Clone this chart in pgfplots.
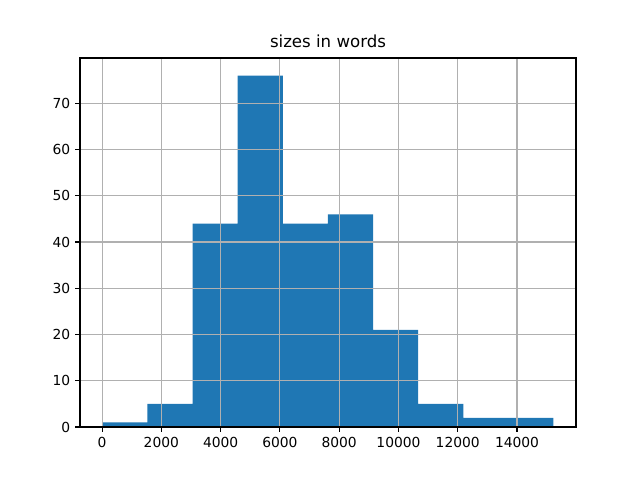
\documentclass[border=0pt]{standalone}
\usepackage{pgfplots}
\pgfplotsset{compat=1.18}
\usepackage{fontspec}
\setmainfont{DejaVu Sans}
\definecolor{mplblue}{HTML}{1F77B4}
\definecolor{mplgrid}{HTML}{B0B0B0}
\begin{document}
\begin{tikzpicture}
\path (0,0) rectangle (6.4in,4.8in);
\begin{axis}[
  at={(0.8in,0.53in)}, anchor=south west,
  scale only axis, width=4.96in, height=3.69in,
  xmin=-744, xmax=15990, ymin=0, ymax=79.8,
  xtick={0,2000,...,14000}, ytick={0,10,...,70},
  grid=major, major grid style={mplgrid, line width=0.8pt},
  axis on top,
  tick align=outside, tick pos=left,
  major tick length=3.5pt,
  every tick/.style={black, line width=0.8pt},
  axis line style={line width=0.8pt},
  /pgf/number format/assume math mode=true,
  /pgf/number format/1000 sep={},
  ticklabel style={font=\fontsize{10}{12}\selectfont},
  scaled x ticks=false,
  title={sizes in words},
  title style={font=\fontsize{12}{14}\selectfont, yshift=-2pt},
]
\addplot[ybar interval, fill=mplblue, draw=none] coordinates {
(10,1) (1532,5) (3054,44) (4576,76) (6098,44) (7620,46) (9142,21) (10664,5) (12186,2) (13708,2) (15230,2)
};
\end{axis}
\end{tikzpicture}
\end{document}
